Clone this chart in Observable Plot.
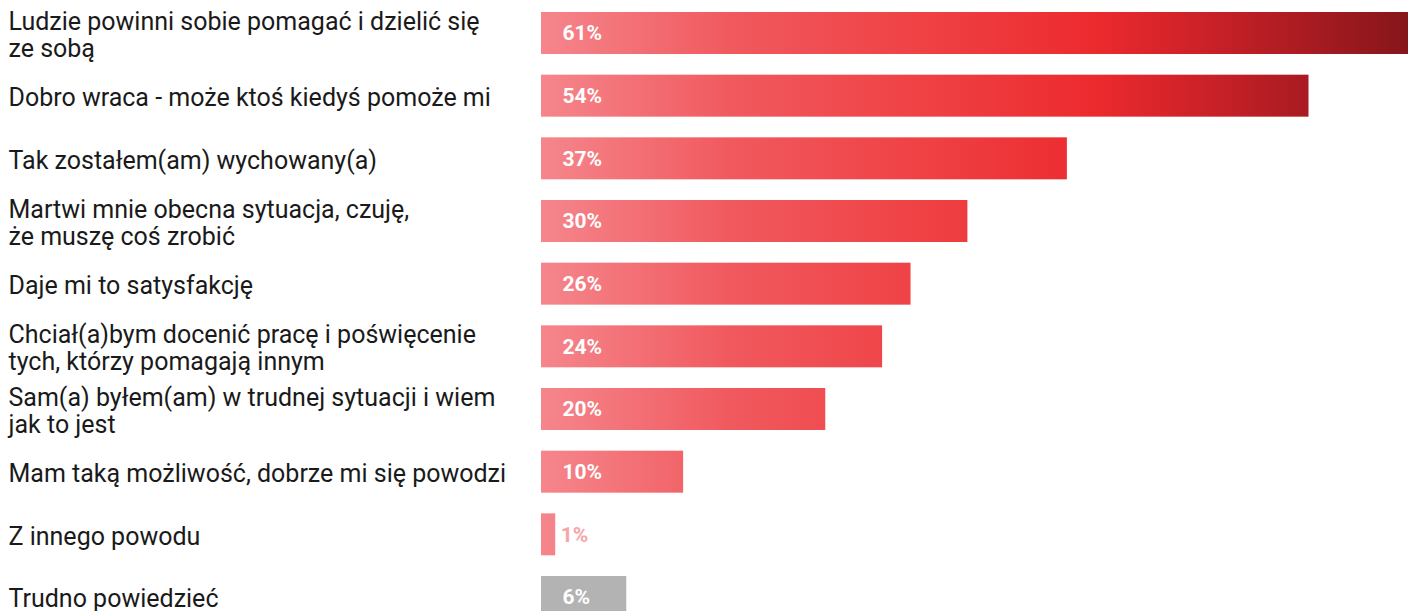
<!DOCTYPE html>
<html>
<head>
<meta charset="utf-8">
<script src="https://cdn.jsdelivr.net/npm/d3@7"></script>
<script src="https://cdn.jsdelivr.net/npm/@observablehq/plot@0.6"></script>
<style>
  html, body { margin: 0; padding: 0; background: #fff; overflow: hidden; }
  #chart svg { display: block; }
</style>
</head>
<body>
<div id="chart"></div>
<script>
const categories = [
  "Ludzie powinni sobie pomagać i dzielić się\nze sobą",
  "Dobro wraca - może ktoś kiedyś pomoże mi",
  "Tak zostałem(am) wychowany(a)",
  "Martwi mnie obecna sytuacja, czuję,\nże muszę coś zrobić",
  "Daje mi to satysfakcję",
  "Chciał(a)bym docenić pracę i poświęcenie\ntych, którzy pomagają innym",
  "Sam(a) byłem(am) w trudnej sytuacji i wiem\njak to jest",
  "Mam taką możliwość, dobrze mi się powodzi",
  "Z innego powodu",
  "Trudno powiedzieć"
];
const values = [61, 54, 37, 30, 26, 24, 20, 10, 1, 6];
const kinds = ["reason","reason","reason","reason","reason","reason","reason","reason","reason","dontknow"];

const data = categories.map((c, i) => ({cat: c, value: values[i], kind: kinds[i], label: values[i] + "%"}));
const inside = data.filter(d => d.value >= 5);
const outside = data.filter(d => d.value < 5);

const plot = Plot.plot({
  width: 1413,
  height: 618,
  marginLeft: 541,
  marginRight: 5,
  marginTop: 12,
  marginBottom: 0,
  x: {domain: [0, 61], axis: null},
  y: {domain: categories, axis: null, paddingInner: 0.33, paddingOuter: 0, align: 0, round: false},
  style: {fontFamily: "Roboto, sans-serif", background: "#fff"},
  marks: [
    Plot.barX(data, {
      y: "cat", x: "value",
      fill: d => d.kind === "dontknow" ? "#b3b3b3" : "url(#barGrad)"
    }),
    Plot.text(inside, {
      y: "cat", x: 0, text: "label", textAnchor: "start", dx: 21,
      fill: "#fff", fontWeight: "bold", fontSize: 21
    }),
    Plot.text(outside, {
      y: "cat", x: "value", text: "label", textAnchor: "start", dx: 5,
      fill: "#f8a4a8", fontWeight: "bold", fontSize: 21
    }),
    Plot.text(data, {
      y: "cat", text: "cat", frameAnchor: "left", textAnchor: "start", dx: -533, dy: 1,
      fill: "#1a1a1a", fontSize: 25, lineHeight: 1.1
    })
  ]
});

// gradient spanning the full x range, positioned through the x scale
const xs = plot.scale("x");
const x0 = xs.apply(0), x1 = xs.apply(61);
const svg = d3.select(plot);
const grad = svg.insert("defs", ":first-child")
  .append("linearGradient")
  .attr("id", "barGrad")
  .attr("gradientUnits", "userSpaceOnUse")
  .attr("x1", x0).attr("x2", x1).attr("y1", 0).attr("y2", 0);
[[0, "#f5868c"], [0.22, "#f0595e"], [0.45, "#ef4043"], [0.64, "#ec2a2e"], [0.8, "#c11f26"], [1, "#86161a"]]
  .forEach(([o, c]) => grad.append("stop").attr("offset", o).attr("stop-color", c));

document.getElementById("chart").append(plot);
</script>
</body>
</html>
